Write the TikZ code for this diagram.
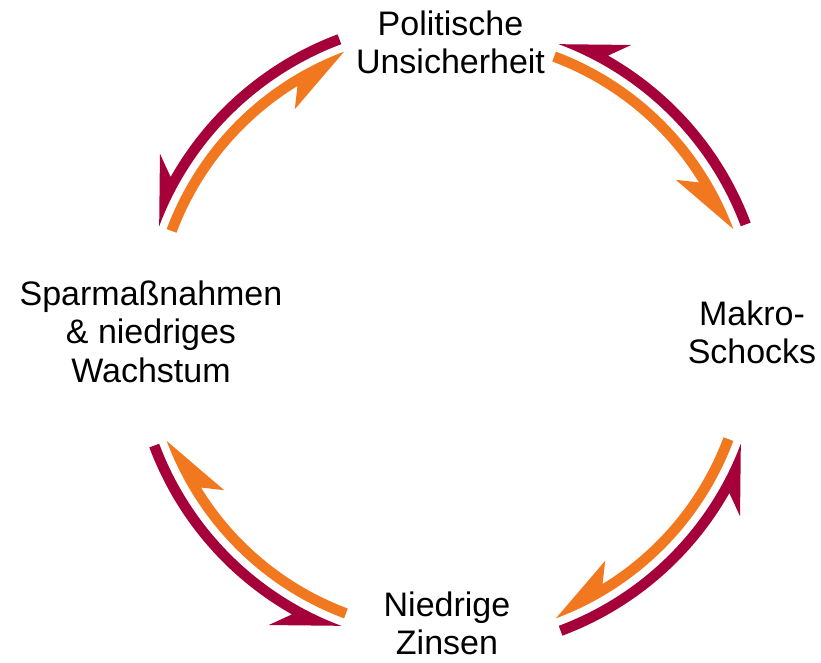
\documentclass[tikz,border=0pt]{standalone}
\usepackage{fontspec}
\setmainfont{Liberation Sans}

\definecolor{kreisrot}{RGB}{166,0,58}
\definecolor{kreisorange}{RGB}{242,120,32}

\begin{document}
\begin{tikzpicture}[x=1pt, y=1pt,
            every node/.style={align=center, inner sep=0pt,
                font=\fontsize{34}{38.5}\selectfont},
            rotpfeil/.style = {fill=kreisrot},
            orangepfeil/.style = {fill=kreisorange},
            ]
    \useasboundingbox (-450,-327) rectangle (371,335);

    \node (unsicherheit) at (0.5,292.6) {Politische\\Unsicherheit};
    \node (schocks) at (302,2.5) {Makro-\\Schocks};
    \node (zinsen) at (-3,-288.5) {Niedrige\\Zinsen};
    \node (sparen) at (-299,3.5) {Sparmaßnahmen\\\& niedriges\\Wachstum};

    \foreach \m in {45,135,225,315}{
        % aussen, gegen den Uhrzeigersinn
        \fill[rotpfeil] (\m-24.5:310.5)
            arc[start angle=\m-24.5, end angle=\m+24.5, radius=310.5]
            -- (\m+13:342) -- (\m+15.5:321)
            arc[start angle=\m+15.5, end angle=\m-24.5, radius=321] -- cycle;
        % innen, im Uhrzeigersinn
        \fill[orangepfeil] (\m+24.5:302.5)
            arc[start angle=\m+24.5, end angle=\m-24.5, radius=302.5]
            -- (\m-10.5:274) -- (\m-13.5:292)
            arc[start angle=\m-13.5, end angle=\m+24.5, radius=292] -- cycle;
    }
\end{tikzpicture}
\end{document}
